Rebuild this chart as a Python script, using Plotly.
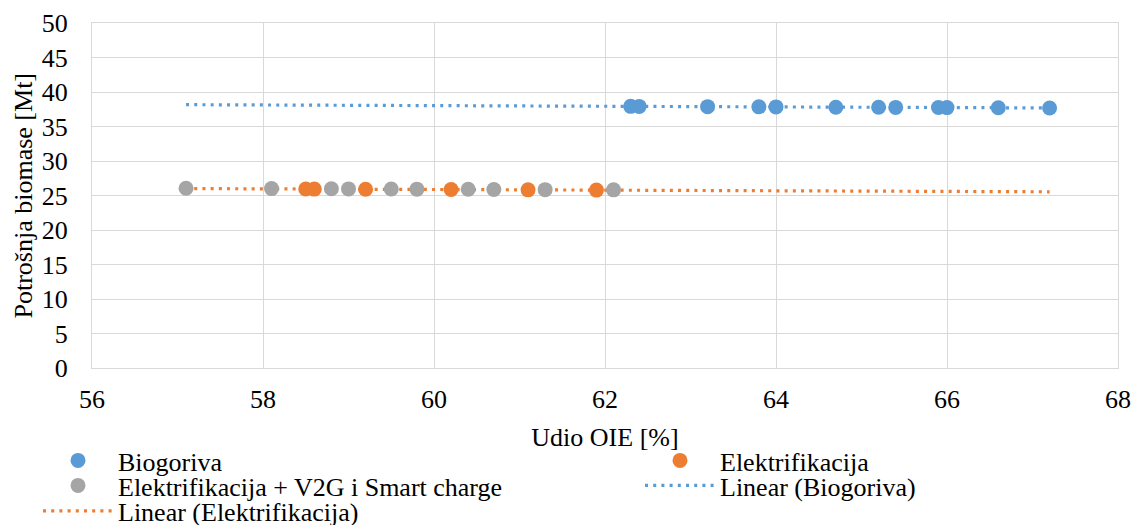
import numpy as np
import plotly.graph_objects as go

# Udio OIE [%] and Potrošnja biomase [Mt] per scenario
bio_x = [62.3, 62.4, 63.2, 63.8, 64.0, 64.7, 65.2, 65.4, 65.9, 66.0, 66.6, 67.2]
bio_y = [37.92, 37.91, 37.88, 37.85, 37.84, 37.80, 37.78, 37.77, 37.75, 37.74, 37.72, 37.69]

el_x = [58.5, 58.6, 59.2, 60.2, 61.1, 61.9]
el_y = [25.94, 25.93, 25.91, 25.86, 25.82, 25.78]

v2g_x = [57.1, 58.1, 58.8, 59.0, 59.5, 59.8, 60.4, 60.7, 61.3, 62.1]
v2g_y = [26.05, 26.00, 25.97, 25.96, 25.94, 25.92, 25.90, 25.88, 25.85, 25.82]

x_ticks = [56, 58, 60, 62, 64, 66, 68]
y_ticks = [0, 5, 10, 15, 20, 25, 30, 35, 40, 45, 50]

BLUE = "#5B9BD5"
ORANGE = "#ED7D31"
GRAY = "#A5A5A5"
FONT = "Liberation Serif, Times New Roman, serif"
FS = 26

# linear trendlines spanning the full x extent of all series
all_x = bio_x + el_x + v2g_x
x_span = np.array([min(all_x), max(all_x)])
bio_fit = np.polyfit(bio_x, bio_y, 1)
el_fit = np.polyfit(el_x, el_y, 1)

fig = go.Figure()
fig.add_trace(go.Scatter(x=x_span, y=np.polyval(bio_fit, x_span), mode="lines",
                         name="Linear (Biogoriva)",
                         line=dict(color=BLUE, width=3.2, dash="3px,5.2px"),
                         legend="legend4"))
fig.add_trace(go.Scatter(x=x_span, y=np.polyval(el_fit, x_span), mode="lines",
                         name="Linear (Elektrifikacija)",
                         line=dict(color=ORANGE, width=3.2, dash="3px,5.2px"),
                         legend="legend5"))
fig.add_trace(go.Scatter(x=bio_x, y=bio_y, mode="markers", name="Biogoriva",
                         marker=dict(color=BLUE, size=15), legend="legend"))
fig.add_trace(go.Scatter(x=el_x, y=el_y, mode="markers", name="Elektrifikacija",
                         marker=dict(color=ORANGE, size=15), legend="legend2"))
fig.add_trace(go.Scatter(x=v2g_x, y=v2g_y, mode="markers",
                         name="Elektrifikacija + V2G i Smart charge",
                         marker=dict(color=GRAY, size=15), legend="legend3"))

W, H = 1132, 525
ML, MR, MT, MB = 92, 14, 23, 157


def leg(xpx, ypx):
    return dict(xref="container", yref="container", x=xpx / W, y=1 - ypx / H,
                xanchor="left", yanchor="middle", bgcolor="rgba(0,0,0,0)",
                borderwidth=0, itemwidth=70,
                font=dict(family=FONT, size=FS, color="#000000"))


fig.update_layout(
    width=W, height=H,
    margin=dict(l=ML, r=MR, t=MT, b=MB, autoexpand=False),
    paper_bgcolor="white", plot_bgcolor="white",
    font=dict(family=FONT, size=FS, color="#000000"),
    showlegend=True,
    legend=leg(38, 460.5),
    legend2=leg(640, 460.5),
    legend3=leg(38, 485.5),
    legend4=leg(640, 485.5),
    legend5=leg(38, 511),
    xaxis=dict(range=[56, 68], tickvals=x_ticks, showgrid=True,
               gridcolor="#D9D9D9", gridwidth=1, zeroline=False,
               showline=True, linecolor="#D9D9D9", mirror=True,
               ticks="outside", ticklen=8, tickcolor="rgba(0,0,0,0)",
               tickfont=dict(family=FONT, size=FS),
               title=dict(text="Udio OIE [%]", standoff=14,
                          font=dict(family=FONT, size=FS))),
    yaxis=dict(range=[0, 50], tickvals=y_ticks, showgrid=True,
               gridcolor="#D9D9D9", gridwidth=1, zeroline=False,
               showline=True, linecolor="#D9D9D9", mirror=True,
               ticks="outside", ticklen=18, tickcolor="rgba(0,0,0,0)",
               tickfont=dict(family=FONT, size=FS)),
)

# vertical axis title, placed beside the tick labels
fig.add_annotation(text="Potrošnja biomase [Mt]", textangle=-90,
                   xref="paper", yref="paper",
                   x=(23 - ML) / (W - ML - MR), y=0.5,
                   xanchor="center", yanchor="middle", showarrow=False,
                   font=dict(family=FONT, size=FS, color="#000000"))

fig.write_html("out.html")
